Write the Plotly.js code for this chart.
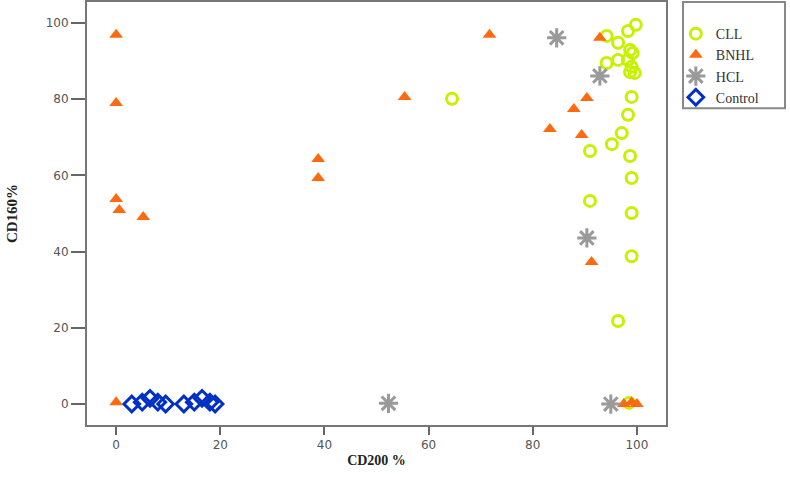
<!DOCTYPE html>
<html>
<head>
<meta charset="utf-8">
<script src="https://cdn.plot.ly/plotly-3.0.1.min.js"></script>
<style>html,body{margin:0;padding:0;background:#fff;}#chart{width:790px;height:477px;}</style>
</head>
<body>
<div id="chart"></div>
<script>
// CLL
var cllX = [99.8, 98.3, 94.2, 96.4, 98.7, 99.2, 94.2, 96.4, 98.3, 99.0, 99.6, 98.7, 99.0, 98.3, 97.1, 95.2, 91.0, 98.7, 99.0, 91.0, 99.0, 99.0, 96.4, 64.5, 98.5];
var cllY = [99.5, 97.9, 96.6, 94.8, 92.9, 92.1, 89.5, 90.3, 90.3, 88.5, 86.9, 87.1, 80.6, 75.9, 71.1, 68.2, 66.4, 65.1, 59.3, 53.3, 50.1, 38.8, 21.8, 80.1, 0.3];
// BNHL
var bnhlX = [0, 0, 0, 0.6, 5.2, 38.8, 38.8, 55.4, 71.7, 92.9, 90.4, 87.9, 83.3, 89.4, 91.3, 0, 97.5, 99, 100];
var bnhlY = [96.9, 79, 53.8, 50.9, 49.1, 64.3, 59.3, 80.6, 96.9, 96.1, 80.3, 77.4, 72.2, 70.6, 37.3, 0.5, 0, 0.5, 0];
// HCL
var hclX = [84.6, 92.9, 90.4, 52.3, 95.0];
var hclY = [96.1, 86.1, 43.6, 0.2, 0];
// Control
var ctrlX = [3, 5, 6.5, 8, 9.5, 13, 15, 16.5, 18, 19];
var ctrlY = [0, 0.5, 1.5, 0.5, 0, 0, 0.5, 1.5, 0.5, 0];

var names = ['CLL', 'BNHL', 'HCL', 'Control'];
var xTicks = [0, 20, 40, 60, 80, 100];
var yTicks = [0, 20, 40, 60, 80, 100];

var traces = [
  {x: cllX, y: cllY, name: names[0], type: 'scatter', mode: 'markers',
   marker: {symbol: 'circle-open', size: 11, color: '#c6f200', line: {width: 3, color: '#c6f200'}}},
  {x: bnhlX, y: bnhlY, name: names[1], type: 'scatter', mode: 'markers',
   marker: {symbol: 'triangle-up', size: 12, color: '#ff6a10', line: {width: 0}}},
  {x: hclX, y: hclY, name: names[2], type: 'scatter', mode: 'markers',
   marker: {symbol: 'asterisk-open', size: 16, color: '#9a9a9a', line: {width: 3, color: '#9a9a9a'}}},
  {x: ctrlX, y: ctrlY, name: names[3], type: 'scatter', mode: 'markers',
   marker: {symbol: 'diamond-open', size: 12, color: '#0030c8', line: {width: 3, color: '#0030c8'}}}
];

var axisFont = {family: 'DejaVu Sans', size: 12, color: '#555'};
var layout = {
  width: 790, height: 477,
  margin: {l: 87, r: 124, t: 2, b: 52},
  paper_bgcolor: '#fff', plot_bgcolor: '#fff',
  showlegend: true,
  xaxis: {range: [-5.6, 105.6], tickvals: xTicks, ticktext: xTicks.map(String),
    showgrid: false, zeroline: false, showline: true, mirror: true,
    linecolor: '#777', linewidth: 2, ticks: 'outside', ticklen: 8, tickwidth: 2, tickcolor: '#666',
    tickfont: axisFont,
    title: {text: '<b>CD200 %</b>', font: {family: 'Liberation Serif', size: 14, color: '#222'}, standoff: 4}},
  yaxis: {range: [-5.5, 105.5], tickvals: yTicks, ticktext: yTicks.map(String),
    showgrid: false, zeroline: false, showline: true, mirror: true,
    linecolor: '#777', linewidth: 2, ticks: 'outside', ticklen: 14, tickwidth: 2, tickcolor: '#666',
    tickfont: axisFont,
    title: {text: '<b>CD160%</b>', font: {family: 'Liberation Serif', size: 15, color: '#222'}, standoff: 24}},
  legend: {x: 1.017, xanchor: 'left', y: 0.962, yanchor: 'top',
    font: {family: 'Liberation Serif', size: 14, color: '#333'},
    bgcolor: 'rgba(0,0,0,0)', borderwidth: 0, itemwidth: 30, tracegroupgap: 0},
  shapes: [{type: 'rect', xref: 'paper', yref: 'paper', x0: 1.0294, x1: 1.2055, y0: 0.749, y1: 1.0,
    line: {color: '#888', width: 2}, fillcolor: 'rgba(0,0,0,0)'}]
};

Plotly.newPlot('chart', traces, layout, {displayModeBar: false, staticPlot: true});
</script>
</body>
</html>
